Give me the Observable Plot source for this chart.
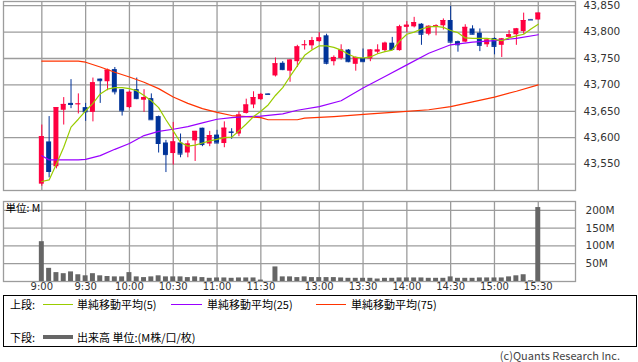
<!DOCTYPE html>
<html><head><meta charset="utf-8">
<script src="https://cdn.jsdelivr.net/npm/d3@7"></script>
<script src="https://cdn.jsdelivr.net/npm/@observablehq/plot@0.6"></script>
<style>
html,body{margin:0;padding:0;background:#fff;}
#wrap{position:relative;width:638px;height:362px;overflow:hidden;font-family:"Noto Sans CJK JP","Noto Sans",sans-serif;color:#000;}
#top,#bot{position:absolute;left:0;}
#top{top:0;}
#bot{top:195px;}
#legend{position:absolute;left:3px;top:295px;width:632px;height:50px;border:1px solid #000;}
.lt{position:absolute;font-size:11px;line-height:16px;white-space:nowrap;}
.ll{position:absolute;}
#copy{position:absolute;right:18px;top:349px;font-size:11px;line-height:13px;color:#444;white-space:nowrap;}
</style>
</head><body>
<div id="wrap">
  <div id="top"></div>
  <div id="bot"></div>
  <div id="legend"></div>
  <div class="lt" style="left:10px;top:296px;">上段:</div>
  <div class="ll" style="left:43px;top:304px;width:30px;height:1px;background:#99cc00;"></div>
  <div class="lt" style="left:77px;top:296px;">単純移動平均(5)</div>
  <div class="ll" style="left:171px;top:304px;width:31px;height:1px;background:#9900ff;"></div>
  <div class="lt" style="left:207px;top:296px;">単純移動平均(25)</div>
  <div class="ll" style="left:316px;top:304px;width:30px;height:1px;background:#ff3300;"></div>
  <div class="lt" style="left:351px;top:296px;">単純移動平均(75)</div>
  <div class="lt" style="left:10px;top:329px;">下段:</div>
  <div class="ll" style="left:43px;top:335px;width:30px;height:4px;background:#666;"></div>
  <div class="lt" style="left:77px;top:329px;">出来高 単位:(M株/口/枚)</div>
  <div id="copy">(c)Quants Research Inc.</div>
</div>
<script>
// 5-minute bars, slot index 0..68 (slot 31 is the lunch-break slot)
const open  = [43512,43592,43545,43652,43665,43663,43657,43648,43711,43706,43729,43691,43657,43691,43671,43674,43640,43590,43570,43590,43571,43594,43618,43588,43605,43589,43611,43607,43646,43662,43672,43683,43717,43741,43726,43744,43775,43774,43782,43793,43744,43750,43766,43739,43750,43749,43762,43765,43779,43765,43809,43810,43815,43796,43809,43812,43822,43782,43781,43806,43798,43776,43788,43775,43790,43795,43801,43824,43823];
const high  = [43624,43640,43657,43676,43710,43683,43665,43713,43711,43730,43733,43691,43688,43713,43691,43683,43641,43595,43629,43607,43594,43612,43618,43612,43614,43630,43617,43649,43673,43687,43684,43683,43751,43744,43748,43775,43784,43790,43799,43796,43755,43776,43767,43753,43768,43767,43776,43781,43790,43813,43820,43828,43816,43812,43814,43825,43849,43783,43814,43812,43806,43786,43789,43788,43803,43807,43836,43824,43836];
const low   = [43508,43524,43541,43624,43655,43645,43631,43630,43665,43689,43681,43641,43655,43672,43648,43634,43571,43534,43548,43562,43562,43555,43583,43583,43589,43581,43597,43602,43645,43655,43671,43682,43715,43727,43705,43733,43766,43766,43781,43738,43736,43747,43742,43726,43743,43744,43758,43762,43766,43764,43799,43808,43775,43793,43793,43804,43780,43762,43780,43795,43763,43771,43757,43752,43788,43775,43796,43823,43823];
const close = [43602,43536,43657,43663,43663,43664,43649,43704,43708,43728,43687,43651,43686,43674,43676,43634,43589,43568,43592,43569,43588,43612,43587,43604,43590,43618,43610,43643,43662,43676,43682,43682,43740,43729,43747,43772,43776,43784,43789,43741,43752,43766,43744,43752,43744,43766,43766,43779,43767,43810,43813,43818,43796,43811,43812,43822,43781,43776,43809,43796,43775,43785,43773,43787,43795,43806,43822,43823,43836];
const volume = [112,37,25,22,27,19,16,22,16,14,13,13,25,13,11,13,16,13,13,13,11,13,11,9,10,10,9,10,10,10,4,0,41,13,13,11,13,11,11,11,11,10,9,9,9,9,7,9,9,10,10,10,10,9,9,9,13,9,9,9,10,10,10,10,13,16,19,2,208];
const ma5 = [43517,43520,43550,43582,43620,43635,43651,43665,43683,43692,43695,43695,43693,43689,43680,43670,43657,43634,43613,43591,43584,43586,43590,43594,43597,43600,43601,43613,43626,43640,43650,43662,43680,43695,43716,43736,43756,43766,43774,43774,43771,43766,43758,43752,43751,43753,43759,43763,43766,43783,43796,43800,43806,43810,43811,43809,43803,43799,43789,43788,43788,43788,43786,43784,43789,43793,43796,43806,43815];
const ma25Slot = [0,1,5,6,8,10,12,14,16,18,20,22,24,26,28,30,33,35,38,41,44,47,50,53,56,59,62,65,68];
const ma25Val  = [43566,43558,43558,43559,43566,43578,43589,43604,43612,43616,43621,43628,43635,43638,43640,43641,43645,43652,43659,43670,43694,43716,43738,43760,43776,43781,43784,43788,43795];
const ma75Slot = [0,5,6,8,10,12,14,16,18,20,22,24,26,28,30,31,35,36,40,45,49,53,56,59,62,65,68];
const ma75Val  = [43745,43745,43743,43734,43724,43715,43705,43693,43677,43665,43655,43648,43642,43640,43638,43634,43634,43637,43640,43645,43649,43653,43659,43668,43677,43688,43700];
const gridSlot   = [0,6,12,18,24,30,38,44,50,56,62,68];
const timeLabels = ["9:00","9:30","10:00","10:30","11:00","11:30","13:00","13:30","14:00","14:30","15:00","15:30"];
const priceTicks = [43550,43600,43650,43700,43750,43800,43850];
const volTicks   = [50,100,150,200];

const RED = "#ff0040", BLUE = "#003399", GRID = "#9c9c9c";
const bars = open.map((o, i) => ({i, open: o, high: high[i], low: low[i], close: close[i], vol: volume[i]}));
const col = d => d.close > d.open ? RED : BLUE;
const ma25 = ma25Slot.map((s, k) => ({i: s, v: ma25Val[k]}));
const ma75 = ma75Slot.map((s, k) => ({i: s, v: ma75Val[k]}));
const ma5d = ma5.map((v, i) => ({i, v}));
const HW = 0.34;
const X = {type: "linear", domain: [-5.25, 73.1], axis: null, label: null};
const labMap = new Map(gridSlot.map((g, k) => [g, timeLabels[k]]));
const font = {fontFamily: "DejaVu Sans", fontSize: "10.5px", color: "#333", background: "transparent", overflow: "visible"};

const upper = Plot.plot({
  width: 638, height: 192, marginLeft: 3, marginRight: 63, marginTop: 1, marginBottom: 2,
  x: X, y: {domain: [43500, 43858], axis: null, label: null}, color: {type: "identity"},
  style: font,
  marks: [
    Plot.gridX(gridSlot, {stroke: GRID, strokeOpacity: 1, strokeWidth: 1.3}),
    Plot.gridY(priceTicks, {stroke: GRID, strokeOpacity: 1, strokeWidth: 1.3}),
    Plot.frame({stroke: GRID, strokeWidth: 1.3}),
    Plot.ruleX(bars, {x: "i", y1: "low", y2: "high", stroke: col, strokeWidth: 1}),
    Plot.rect(bars, {x1: d => d.i - HW, x2: d => d.i + HW, y1: "open", y2: "close", fill: col}),
    Plot.ruleY(bars, {y: "close", x1: d => d.i - HW, x2: d => d.i + HW, stroke: col, strokeWidth: 1}),
    Plot.line(ma75, {x: "i", y: "v", stroke: "#ff3300", strokeWidth: 1.2}),
    Plot.line(ma25, {x: "i", y: "v", stroke: "#9900ff", strokeWidth: 1.2}),
    Plot.line(ma5d, {x: "i", y: "v", stroke: "#99cc00", strokeWidth: 1.2}),
    Plot.axisY(priceTicks, {anchor: "right", label: null, tickSize: 0, tickPadding: 8, tickFormat: d3.format(","), fill: "#333"})
  ]
});
document.getElementById("top").appendChild(upper);

const lower = Plot.plot({
  width: 638, height: 100, marginLeft: 3, marginRight: 63, marginTop: 6, marginBottom: 14,
  x: X, y: {domain: [0, 225], axis: null, label: null},
  style: font,
  marks: [
    Plot.gridX(gridSlot, {stroke: GRID, strokeOpacity: 1, strokeWidth: 1.3}),
    Plot.gridY(volTicks, {stroke: GRID, strokeOpacity: 1, strokeWidth: 1.3}),
    Plot.frame({stroke: GRID, strokeWidth: 1.3}),
    Plot.rect(bars.filter(d => d.vol > 0), {x1: d => d.i - HW, x2: d => d.i + HW, y1: 0, y2: "vol", fill: "#666666"}),
    Plot.axisY(volTicks, {anchor: "right", label: null, tickSize: 0, tickPadding: 10, tickFormat: d => d + "M", fill: "#333"}),
    Plot.axisX(gridSlot, {anchor: "bottom", label: null, tickSize: 0, tickPadding: 1, tickFormat: d => labMap.get(d), fill: "#333", fontSize: 10}),
    Plot.text(["単位: M"], {frameAnchor: "top-left", dx: 2, dy: 3, lineAnchor: "top", textAnchor: "start", fontFamily: "Noto Sans CJK JP", fontSize: 10.5, fill: "#000"})
  ]
});
document.getElementById("bot").appendChild(lower);
</script>
</body></html>
